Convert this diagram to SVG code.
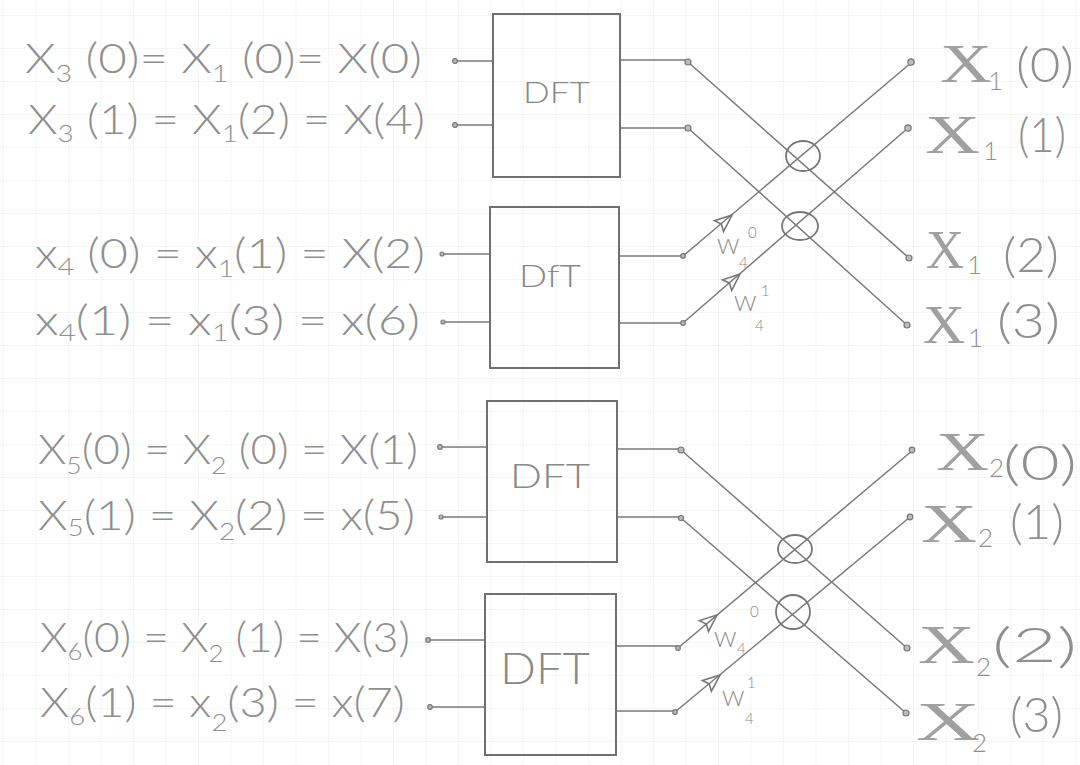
<svg xmlns="http://www.w3.org/2000/svg" xmlns:xlink="http://www.w3.org/1999/xlink" width="1080" height="765" viewBox="0 0 1080 765">
<style>
.lbl{font-family:"Lato","Liberation Sans",sans-serif;font-weight:300;font-size:41px;fill:#8f8f8f}
.sb{font-size:24px}
.out{font-family:"Lato","Liberation Sans",sans-serif;font-weight:300;font-size:48px;fill:#8f8f8f}
.bigx{font-family:"Liberation Serif","DejaVu Serif",serif;font-size:54px;fill:#a0a0a0}
.osb{font-family:"Lato","Liberation Sans",sans-serif;font-weight:300;font-size:26px;fill:#8f8f8f}
.dft{font-family:"Lato","Liberation Sans",sans-serif;font-weight:300;fill:#888}
.w{font-family:"Lato","Liberation Sans",sans-serif;font-weight:300;font-size:22px;fill:#8a8a8a}
.ws{font-size:15px}
.box{fill:none;stroke:#707070;stroke-width:2}
.ln{stroke:#7a7a7a;stroke-width:1.5;fill:none}
.dot{fill:#bbb;stroke:#777;stroke-width:1.2}
.ell{fill:none;stroke:#777;stroke-width:1.8}
.ah{fill:none;stroke:#777;stroke-width:1.6}
</style>
<defs>
<pattern id="grid" width="32.5" height="33" patternUnits="userSpaceOnUse" x="3" y="15">
<path d="M0 0H32.5M0 0V33" stroke="#ebebeb" stroke-width="1" fill="none"/>
</pattern>
<path id="arr" d="M0 0L-17 -7L-14 0L-17 7Z" class="ah"/>
</defs>
<rect width="1080" height="765" fill="#fff"/>
<rect width="1080" height="765" fill="url(#grid)"/>

<g id="connectors">
<path class="ln" d="M455 61H493M455 125H493M442 254H490M443 322H490M440 447H487M441 517H487M428 640H485M430 707H485"/>
<path class="ln" d="M620 60H688M620 128H688M619 256H683M619 323H683M617 449H681M617 517H681M616 646H678M616 711H675"/>
<path class="ln" d="M688 62L909 258M688 128L907 325M683 256L912 62M683 323L908 128"/>
<path class="ln" d="M681 450L907 648M681 518L906 713M678 648L913 450M675 712L910 517"/>
<ellipse class="ell" cx="803" cy="156" rx="17" ry="15"/>
<ellipse class="ell" cx="800" cy="226" rx="18" ry="14"/>
<ellipse class="ell" cx="795" cy="549" rx="17" ry="14"/>
<ellipse class="ell" cx="793" cy="612" rx="17" ry="17"/>
<use xlink:href="#arr" transform="translate(732 215) rotate(-40.3)"/>
<use xlink:href="#arr" transform="translate(740 274) rotate(-40.9)"/>
<use xlink:href="#arr" transform="translate(717 615) rotate(-40.1)"/>
<use xlink:href="#arr" transform="translate(720 675) rotate(-39.7)"/>
<g class="dot">
<circle cx="455" cy="61" r="2.3"/><circle cx="455" cy="125" r="2.3"/>
<circle cx="442" cy="254" r="2"/><circle cx="443" cy="322" r="2"/>
<circle cx="440" cy="447" r="2.3"/><circle cx="441" cy="517" r="2"/>
<circle cx="428" cy="640" r="2.3"/><circle cx="430" cy="707" r="2.3"/>
<circle cx="688" cy="62" r="3"/><circle cx="688" cy="128" r="3"/>
<circle cx="683" cy="256" r="2.3"/><circle cx="683" cy="323" r="2.3"/>
<circle cx="681" cy="450" r="3"/><circle cx="681" cy="518" r="2.5"/>
<circle cx="678" cy="648" r="2.3"/><circle cx="675" cy="712" r="2.3"/>
<circle cx="911" cy="62" r="3.2"/><circle cx="908" cy="128" r="3.2"/>
<circle cx="909" cy="258" r="3"/><circle cx="907" cy="325" r="3"/>
<circle cx="912" cy="450" r="2.8"/><circle cx="910" cy="517" r="2.8"/>
<circle cx="907" cy="648" r="3"/><circle cx="906" cy="713" r="3"/>
</g>
</g>

<g id="dft1"><rect class="box" x="493" y="14" width="127" height="163"/><text class="dft" x="523" y="103" font-size="30" textLength="67" lengthAdjust="spacingAndGlyphs">DFT</text></g>
<g id="dft2"><rect class="box" x="490" y="207" width="129" height="161"/><text class="dft" x="519" y="287" font-size="32" textLength="62" lengthAdjust="spacingAndGlyphs">DfT</text></g>
<g id="dft3"><rect class="box" x="487" y="401" width="130" height="161"/><text class="dft" x="510" y="488" font-size="34" textLength="80" lengthAdjust="spacingAndGlyphs">DFT</text></g>
<g id="dft4"><rect class="box" x="485" y="594" width="131" height="161"/><text class="dft" x="500" y="684" font-size="44" textLength="90" lengthAdjust="spacingAndGlyphs">DFT</text></g>

<g id="in1"><text class="lbl" x="25" y="73" textLength="397" lengthAdjust="spacingAndGlyphs">X<tspan class="sb" dy="9">3</tspan><tspan dy="-9"> (0)= X</tspan><tspan class="sb" dy="9">1</tspan><tspan dy="-9"> (0)= X(0)</tspan></text></g>
<g id="in2"><text class="lbl" x="28" y="134" textLength="397" lengthAdjust="spacingAndGlyphs">X<tspan class="sb" dy="8">3</tspan><tspan dy="-8"> (1) = X</tspan><tspan class="sb" dy="8">1</tspan><tspan dy="-8">(2) = X(4)</tspan></text></g>
<g id="in3"><text class="lbl" x="35" y="268" textLength="390" lengthAdjust="spacingAndGlyphs">x<tspan class="sb" dy="7">4</tspan><tspan dy="-7"> (0) = x</tspan><tspan class="sb" dy="9">1</tspan><tspan dy="-9">(1) = X(2)</tspan></text></g>
<g id="in4"><text class="lbl" x="35" y="335" textLength="385" lengthAdjust="spacingAndGlyphs">x<tspan class="sb" dy="6">4</tspan><tspan dy="-6">(1) = x</tspan><tspan class="sb" dy="6">1</tspan><tspan dy="-6">(3) = x(6)</tspan></text></g>
<g id="in5"><text class="lbl" x="38" y="464" textLength="380" lengthAdjust="spacingAndGlyphs">X<tspan class="sb" dy="10">5</tspan><tspan dy="-10">(0) = X</tspan><tspan class="sb" dy="10">2</tspan><tspan dy="-10"> (0) = X(1)</tspan></text></g>
<g id="in6"><text class="lbl" x="38" y="530" textLength="377" lengthAdjust="spacingAndGlyphs">X<tspan class="sb" dy="6">5</tspan><tspan dy="-6">(1) = X</tspan><tspan class="sb" dy="10">2</tspan><tspan dy="-10">(2) = x(5)</tspan></text></g>
<g id="in7"><text class="lbl" x="40" y="652" textLength="370" lengthAdjust="spacingAndGlyphs">X<tspan class="sb" dy="8">6</tspan><tspan dy="-8">(0) = X</tspan><tspan class="sb" dy="10">2</tspan><tspan dy="-10"> (1) = X(3)</tspan></text></g>
<g id="in8"><text class="lbl" x="40" y="717" textLength="365" lengthAdjust="spacingAndGlyphs">X<tspan class="sb" dy="8">6</tspan><tspan dy="-8">(1) = x</tspan><tspan class="sb" dy="14">2</tspan><tspan dy="-14">(3) = x(7)</tspan></text></g>

<g id="w1"><text class="w" x="717" y="254">W</text><text class="w ws" x="739" y="268">4</text><text class="w ws" x="748" y="238">0</text></g>
<g id="w2"><text class="w" x="734" y="311">W</text><text class="w ws" x="755" y="331">4</text><text class="w ws" x="761" y="296">1</text></g>
<g id="w3"><text class="w" x="714" y="647">W</text><text class="w ws" x="737" y="654">4</text><text class="w ws" x="750" y="617">0</text></g>
<g id="w4"><text class="w" x="722" y="706">W</text><text class="w ws" x="745" y="724">4</text><text class="w ws" x="747" y="688">1</text></g>

<g id="out1"><text class="bigx" x="940" y="82" textLength="52" lengthAdjust="spacingAndGlyphs">X</text><text class="osb" x="988" y="90">1</text><text class="out" x="1016" y="82" textLength="58" lengthAdjust="spacingAndGlyphs">(0)</text></g>
<g id="out2"><text class="bigx" x="925" y="153" textLength="55" lengthAdjust="spacingAndGlyphs">X</text><text class="osb" x="983" y="160">1</text><text class="out" x="1018" y="152" textLength="48" lengthAdjust="spacingAndGlyphs">(1)</text></g>
<g id="out3"><text class="bigx" x="926" y="268" textLength="38" lengthAdjust="spacingAndGlyphs">X</text><text class="osb" x="967" y="274">1</text><text class="out" x="1003" y="272" textLength="56" lengthAdjust="spacingAndGlyphs">(2)</text></g>
<g id="out4"><text class="bigx" x="923" y="343" textLength="42" lengthAdjust="spacingAndGlyphs">X</text><text class="osb" x="968" y="347">1</text><text class="out" x="997" y="338" textLength="63" lengthAdjust="spacingAndGlyphs">(3)</text></g>
<g id="out5"><text class="bigx" x="936" y="470" textLength="53" lengthAdjust="spacingAndGlyphs">X</text><text class="osb" x="989" y="477">2</text><text class="out" x="1003" y="480" font-size="54" textLength="74" lengthAdjust="spacingAndGlyphs">(0)</text></g>
<g id="out6"><text class="bigx" x="921" y="542" textLength="56" lengthAdjust="spacingAndGlyphs">X</text><text class="osb" x="978" y="547">2</text><text class="out" x="1010" y="539" textLength="54" lengthAdjust="spacingAndGlyphs">(1)</text></g>
<g id="out7"><text class="bigx" x="918" y="663" textLength="57" lengthAdjust="spacingAndGlyphs">X</text><text class="osb" x="976" y="676">2</text><text class="out" x="992" y="662" font-size="54" textLength="85" lengthAdjust="spacingAndGlyphs">(2)</text></g>
<g id="out8"><text class="bigx" x="916" y="740" textLength="64" lengthAdjust="spacingAndGlyphs">X</text><text class="osb" x="972" y="752">2</text><text class="out" x="1010" y="732" textLength="53" lengthAdjust="spacingAndGlyphs">(3)</text></g>
</svg>
